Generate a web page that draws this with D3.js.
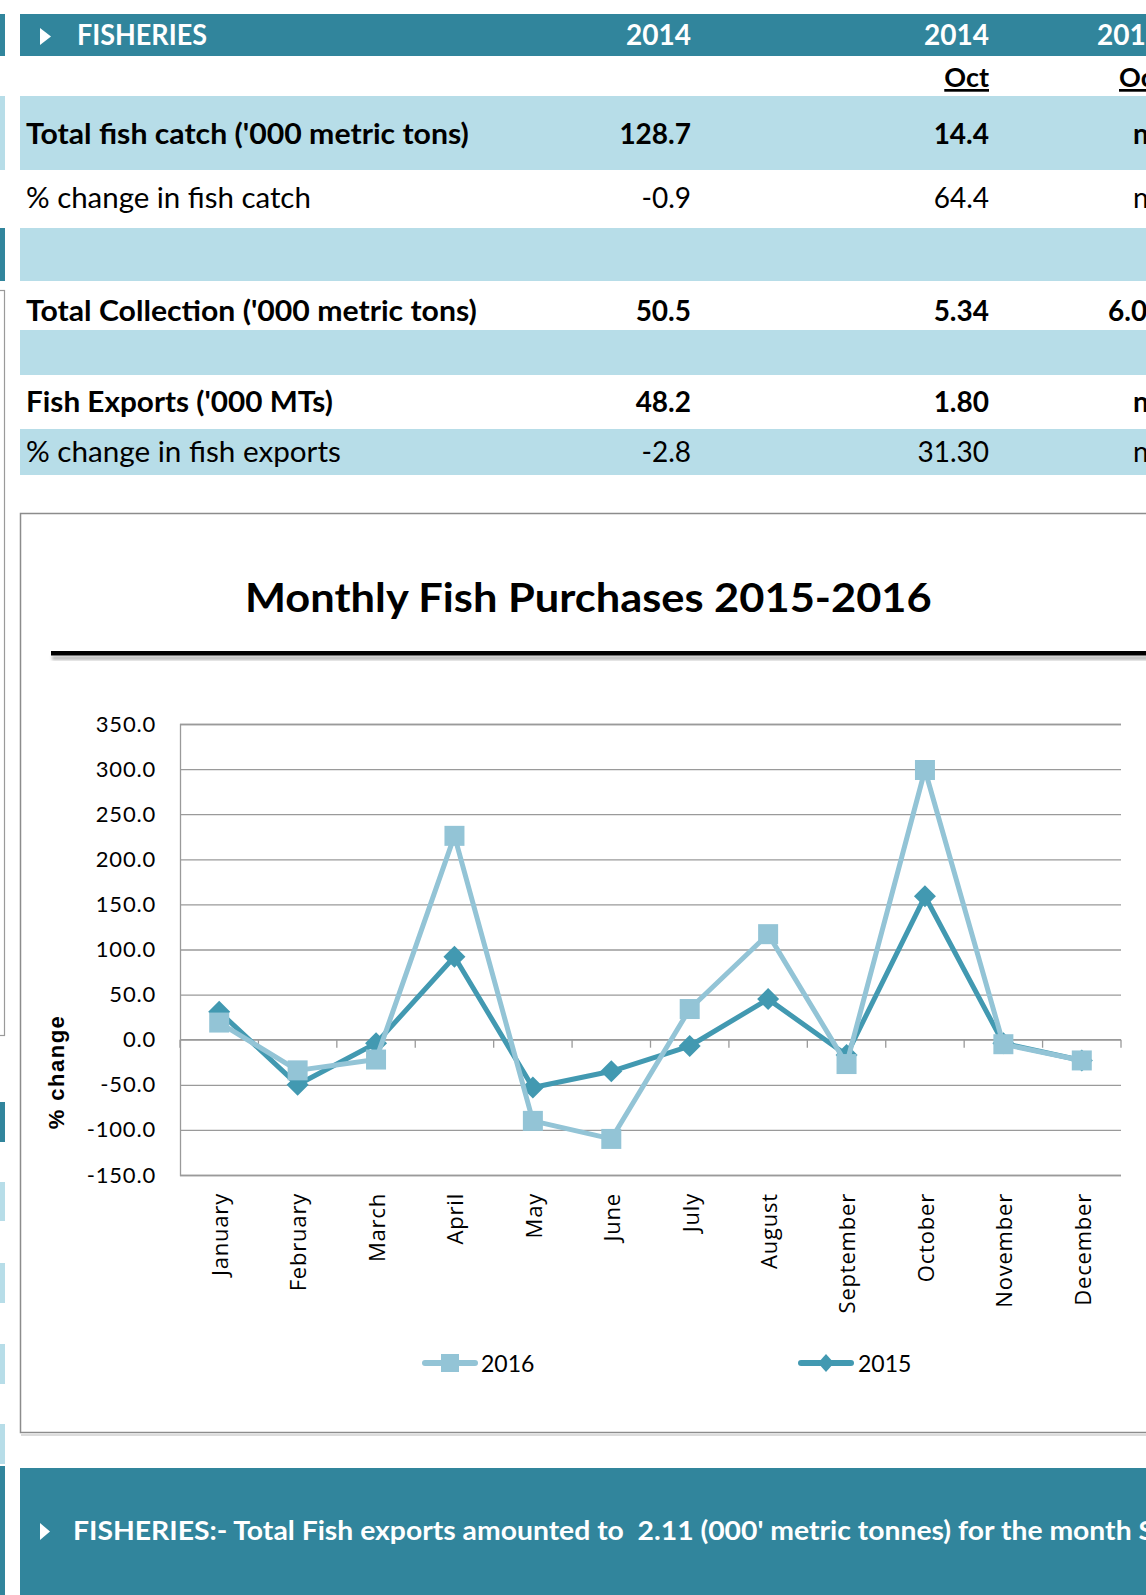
<!DOCTYPE html>
<html><head><meta charset="utf-8">
<script src="https://cdn.jsdelivr.net/npm/d3@7"></script>
<style>
html,body{margin:0;padding:0;background:#fff;overflow:hidden;}
svg{display:block;}
text{white-space:pre;}
</style></head><body>
<svg id="page" width="1146" height="1595"></svg>
<script>
// ---------------- DATA ----------------
const months = ["January","February","March","April","May","June","July","August","September","October","November","December"];
const values2016 = [19, -34, -22, 226, -90, -110, 34, 117, -27, 299, -5, -23];
const values2015 = [31, -50, -4, 92, -53, -35, -7, 45, -17, 159, -4, -23];
const yTickValues = [350, 300, 250, 200, 150, 100, 50, 0, -50, -100, -150];
const seriesNames = ["2016", "2015"];
const chartTitle = "Monthly Fish Purchases 2015-2016";
const yAxisTitle = "% change";

const headerLabels = ["FISHERIES", "2014", "2014", "2015"];
const subHeaderLabels = ["", "", "Oct", "Oct"];
const rowLabels = ["Total fish catch ('000 metric tons)", "% change in fish catch", "", "Total Collection ('000 metric tons)", "", "Fish Exports ('000 MTs)", "% change in fish exports"];
const colYear2014 = ["128.7", "-0.9", "", "50.5", "", "48.2", "-2.8"];
const colOct2014 = ["14.4", "64.4", "", "5.34", "", "1.80", "31.30"];
const colOct2015 = ["na", "na", "", "6.0", "", "na", "na"];
const rowBold = [true, false, false, true, false, true, false];
const noteText = "FISHERIES:- Total Fish exports amounted to  2.11 (000' metric tonnes) for the month September";
const notePrefix = "FISHERIES:- Total Fish exports amounted to  2.11 (000' metric tonnes) for the month ";

// ---------------- STYLE / LAYOUT ----------------
const TEAL = "#31859C", LIGHT = "#B7DDE8";
const C2016 = "#93C4D6", C2015 = "#4299B1";
const FONT = "Lato, 'Open Sans', sans-serif";
const svg = d3.select("#page");

// horizontal fit helper: scales text horizontally so its (prefix) width = target
function fitText(g, txt, x, y, target, opts) {
  const t = g.append("text").attr("font-family", FONT)
    .attr("font-size", opts.size).attr("font-weight", opts.bold ? 700 : 400)
    .attr("fill", opts.fill || "#000").attr("text-anchor", opts.anchor || "start")
    .text(opts.measure || txt);
  const w = t.node().getComputedTextLength();
  const sx = w > 0 ? target / w : 1;
  t.text(txt).attr("transform", `translate(${x},${y}) scale(${sx},1)`);
  return t;
}

// ---------- left page strips ----------
const leftStrips = [[14,56,TEAL],[96,170,LIGHT],[228,281,TEAL],[1102,1142,TEAL],[1182,1221,LIGHT],[1263,1303,LIGHT],[1344,1384,LIGHT],[1424,1464,LIGHT],[1466,1595,TEAL]];
svg.selectAll("rect.strip").data(leftStrips).join("rect").attr("class","strip")
  .attr("x",0).attr("width",5).attr("y",d=>d[0]).attr("height",d=>d[1]-d[0]).attr("fill",d=>d[2]);
svg.append("rect").attr("x",-10).attr("y",290.5).attr("width",14.5).attr("height",745)
  .attr("fill","none").attr("stroke","#9a9a9a").attr("stroke-width",1.2);

// ---------- table ----------
const tbl = svg.append("g");
tbl.append("rect").attr("x",20).attr("y",14).attr("width",1126).attr("height",42).attr("fill",TEAL);
tbl.append("path").attr("d","M40,28L40,45L51,36.5Z").attr("fill","#fff");
fitText(tbl, headerLabels[0], 77, 45, 130, {size:28, bold:true, fill:"#fff"});
const colRight = [0, 691, 989];
tbl.append("text").attr("x",colRight[1]).attr("y",45).attr("text-anchor","end").attr("font-family",FONT)
  .attr("font-size",28).attr("font-weight",700).attr("fill","#fff").text(headerLabels[1]);
tbl.append("text").attr("x",colRight[2]).attr("y",45).attr("text-anchor","end").attr("font-family",FONT)
  .attr("font-size",28).attr("font-weight",700).attr("fill","#fff").text(headerLabels[2]);
tbl.append("text").attr("x",1097).attr("y",45).attr("font-family",FONT)
  .attr("font-size",28).attr("font-weight",700).attr("fill","#fff").text(headerLabels[3]);
// sub header Oct
tbl.append("text").attr("x",colRight[2]).attr("y",87).attr("text-anchor","end").attr("font-family",FONT)
  .attr("font-size",27).attr("font-weight",700).attr("text-decoration","underline").text(subHeaderLabels[2]);
tbl.append("text").attr("x",1119).attr("y",87).attr("font-family",FONT)
  .attr("font-size",27).attr("font-weight",700).attr("text-decoration","underline").text(subHeaderLabels[3]);

const rowBands = [[96,170],[170,228],[228,281],[281,330],[330,375],[375,429],[429,475]];
const rowShaded = [true,false,true,false,true,false,true];
const rowBase = [144,208,0,321,0,412,462];
const labelWidths = [443,285,0,451,0,307,315];
rowBands.forEach((b,i)=>{
  if (rowShaded[i]) tbl.append("rect").attr("x",20).attr("y",b[0]).attr("width",1126).attr("height",b[1]-b[0]).attr("fill",LIGHT);
});
rowLabels.forEach((lab,i)=>{
  if (!lab) return;
  const bold = rowBold[i];
  fitText(tbl, lab, 26, rowBase[i], labelWidths[i], {size:28, bold:bold});
  tbl.append("text").attr("x",colRight[1]).attr("y",rowBase[i]).attr("text-anchor","end").attr("font-family",FONT)
    .attr("font-size",28).attr("font-weight",bold?700:400).text(colYear2014[i]);
  tbl.append("text").attr("x",colRight[2]).attr("y",rowBase[i]).attr("text-anchor","end").attr("font-family",FONT)
    .attr("font-size",28).attr("font-weight",bold?700:400).text(colOct2014[i]);
  tbl.append("text").attr("x", colOct2015[i]==="na" ? 1133 : 1108).attr("y",rowBase[i]).attr("font-family",FONT)
    .attr("font-size",28).attr("font-weight",bold?700:400).text(colOct2015[i]);
});

// ---------- chart box ----------
const defs = svg.append("defs");
defs.append("filter").attr("id","blur").append("feGaussianBlur").attr("stdDeviation",1.6);
svg.append("rect").attr("x",20.5).attr("y",513.5).attr("width",1200).attr("height",919)
  .attr("fill","#fff").attr("stroke","#8c8c8c").attr("stroke-width",1.5);
svg.append("line").attr("x1",21).attr("x2",1146).attr("y1",1435).attr("y2",1435).attr("stroke","#d0d0d0").attr("stroke-width",1.5);

// title
fitText(svg, chartTitle, 245, 612, 687, {size:40, bold:true});
svg.append("rect").attr("x",52).attr("y",656).attr("width",1100).attr("height",4).attr("fill","#999").attr("opacity",0.7).attr("filter","url(#blur)");
svg.append("rect").attr("x",51).attr("y",651).attr("width",1100).attr("height",4.5).attr("fill","#000");

// scales
const plot = {left:180, right:1121, top:724, bottom:1175};
const x = d3.scaleBand().domain(months).range([plot.left, plot.right]).padding(0);
const y = d3.scaleLinear().domain([-150, 350]).range([plot.bottom, plot.top]);
const cx = m => x(m) + x.bandwidth()/2;

// gridlines
const grid = svg.append("g").attr("transform",`translate(${plot.left},0)`)
  .call(d3.axisLeft(y).tickValues(yTickValues).tickSize(-(plot.right-plot.left)).tickFormat(""));
grid.selectAll("line").attr("stroke","#9a9a9a").attr("stroke-width",1.3);
grid.select(".domain").attr("stroke","#9a9a9a").attr("stroke-width",1.3);

// y labels (plain hyphen minus as in the reference)
const fmt = d3.format(".1f");
const yl = svg.append("g").attr("transform",`translate(${plot.left},0)`)
  .call(d3.axisLeft(y).tickValues(yTickValues).tickSize(0).tickPadding(24).tickFormat(d => fmt(d).replace("\u2212","-")));
yl.select(".domain").remove();
yl.selectAll("text").attr("font-family",FONT).attr("font-size",22).attr("letter-spacing","0.8px").attr("fill","#000");

// y title
svg.append("text").attr("transform","translate(64,1072) rotate(-90)").attr("text-anchor","middle")
  .attr("font-family","'Liberation Sans', Arial, sans-serif").attr("font-weight",700).attr("font-size",22)
  .attr("letter-spacing","1.5px").text(yAxisTitle);

// x axis line at 0 with boundary ticks
const xa = svg.append("g");
xa.append("line").attr("x1",plot.left).attr("x2",plot.right).attr("y1",y(0)).attr("y2",y(0)).attr("stroke","#9a9a9a").attr("stroke-width",1.3);
const boundaries = months.map(m=>x(m)).concat([x(months[months.length-1])+x.bandwidth()]);
xa.selectAll("line.tk").data(boundaries).join("line").attr("class","tk")
  .attr("x1",d=>d).attr("x2",d=>d).attr("y1",y(0)).attr("y2",y(0)+8).attr("stroke","#9a9a9a").attr("stroke-width",1.3);

// x labels
const xl = svg.append("g").attr("transform",`translate(0,${plot.bottom})`)
  .call(d3.axisBottom(x).tickSize(0));
xl.select(".domain").remove();
xl.selectAll("text").attr("transform","rotate(-90)").attr("text-anchor","end")
  .attr("x",-18).attr("y",0).attr("dy","0.4em")
  .attr("font-family","'Open Sans', sans-serif").attr("font-size",22).attr("letter-spacing","0.8px").attr("fill","#000");

// lines
const line = d3.line().x((d,i)=>cx(months[i])).y(d=>y(d));
const diamond = r => `M0,${-r}L${r},0L0,${r}L${-r},0Z`;
// 2015 first
svg.append("path").datum(values2015).attr("d",line).attr("fill","none").attr("stroke",C2015)
  .attr("stroke-width",5).attr("stroke-linejoin","round");
svg.selectAll("path.d15").data(values2015).join("path").attr("class","d15")
  .attr("transform",(d,i)=>`translate(${cx(months[i])},${y(d)})`).attr("d",diamond(11)).attr("fill",C2015);
svg.append("path").datum(values2016).attr("d",line).attr("fill","none").attr("stroke",C2016)
  .attr("stroke-width",5).attr("stroke-linejoin","round");
svg.selectAll("rect.s16").data(values2016).join("rect").attr("class","s16")
  .attr("x",(d,i)=>cx(months[i])-10).attr("y",d=>y(d)-10).attr("width",20).attr("height",20).attr("fill",C2016);

// legend
const legY = 1363;
const lg = svg.append("g");
const legItems = [{name:seriesNames[0], color:C2016, x0:422, x1:478, text:481, mark:"square"},
                  {name:seriesNames[1], color:C2015, x0:798, x1:854, text:858, mark:"diamond"}];
legItems.forEach(it=>{
  lg.append("line").attr("x1",it.x0+3).attr("x2",it.x1-3).attr("y1",legY).attr("y2",legY)
    .attr("stroke",it.color).attr("stroke-width",6).attr("stroke-linecap","round");
  const mx = (it.x0+it.x1)/2;
  if (it.mark==="square") lg.append("rect").attr("x",mx-9).attr("y",legY-9).attr("width",18).attr("height",18).attr("fill",it.color);
  else lg.append("path").attr("transform",`translate(${mx},${legY})`).attr("d","M0,-9L8,0L0,9L-8,0Z").attr("fill",it.color);
  lg.append("text").attr("x",it.text).attr("y",legY+8.5).attr("font-family",FONT).attr("font-size",23).text(it.name);
});

// bottom note bar
svg.append("rect").attr("x",20).attr("y",1468).attr("width",1126).attr("height",127).attr("fill",TEAL);
svg.append("path").attr("d","M40,1523L40,1540L50,1531.5Z").attr("fill","#fff");
fitText(svg, noteText, 73, 1540, 1066, {size:27, bold:true, fill:"#fff", measure:notePrefix});
</script>
</body></html>
